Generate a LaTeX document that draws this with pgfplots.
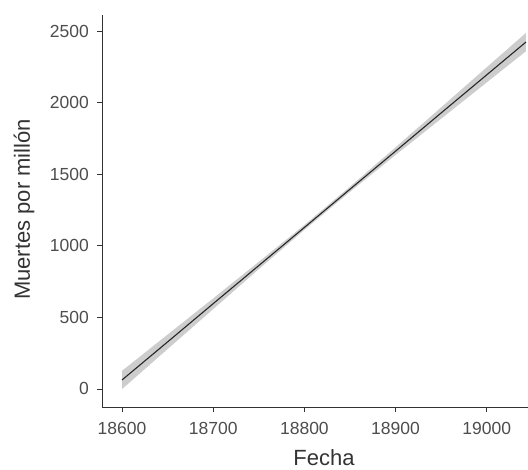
\documentclass[border=0pt]{standalone}
\usepackage{pgfplots}
\pgfplotsset{compat=1.18}
\usepackage{fontspec}
\setmainfont{Liberation Sans}
\definecolor{tickgray}{HTML}{4D4D4D}
\definecolor{axgray}{HTML}{333333}
\definecolor{bandgray}{HTML}{CDCDCD}
\begin{document}
\begin{tikzpicture}
\path[use as bounding box] (-102bp,-63bp) rectangle (426bp,407bp);
\begin{axis}[
  at={(0,0)}, anchor=south west,
  scale only axis,
  width=444bp, height=392bp,
  xmin=18578, xmax=19065,
  ymin=-126, ymax=2612,
  axis x line*=bottom, axis y line*=left,
  axis line style={axgray, line width=0.9bp, -},
  xtick={18600,18700,18800,18900,19000},
  ytick={0,500,1000,1500,2000,2500},
  scaled x ticks=false, scaled y ticks=false,
  tick align=outside,
  major tick length=5bp,
  every tick/.style={axgray, line width=0.9bp},
  /pgf/number format/assume math mode=true,
  /pgf/number format/1000 sep={},
  tick label style={font=\fontsize{17.5bp}{20bp}\selectfont, text=tickgray},
  yticklabel style={anchor=east, inner sep=0pt, xshift=-8bp},
  xticklabel style={anchor=north, inner sep=0pt, yshift=-10bp},
  xlabel={Fecha},
  ylabel={Muertes por millón},
  every axis x label/.style={at={(axis description cs:0.5,0)}, anchor=base, yshift=-58bp, inner sep=0pt, font=\fontsize{22bp}{26bp}\selectfont, text=axgray},
  every axis y label/.style={at={(axis description cs:0,0.504)}, rotate=90, anchor=base, yshift=72bp, inner sep=0pt, font=\fontsize{22bp}{26bp}\selectfont, text=axgray},
]
\addplot[fill=bandgray, draw=none] coordinates {
(18600,-1) (18650,279) (18700,558) (18750,837) (18800,1111) (18850,1377) (18900,1634) (18950,1888) (19000,2141) (19043,2359)
(19043,2487) (19000,2247) (18950,1967) (18900,1688) (18850,1413) (18800,1145) (18750,888) (18700,633) (18650,380) (18600,127)
};
\addplot[black!85, line width=1.1bp] coordinates {
(18600,63) (18650,329) (18700,596) (18750,862) (18800,1128) (18850,1395) (18900,1661) (18950,1928) (19000,2194) (19043,2423)
};
\end{axis}
\end{tikzpicture}
\end{document}
